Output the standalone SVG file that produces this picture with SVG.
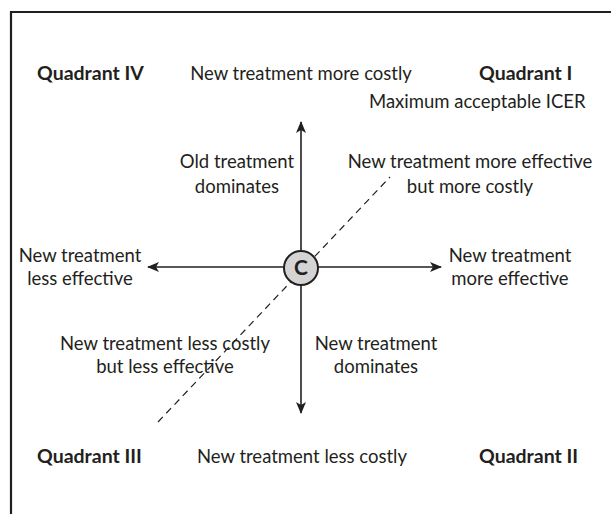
<svg xmlns="http://www.w3.org/2000/svg" width="611" height="514" viewBox="0 0 611 514">
<defs>
<marker id="ah" viewBox="0 0 12 10" refX="11" refY="5" markerWidth="12" markerHeight="10" markerUnits="userSpaceOnUse" orient="auto">
<path d="M0,0 L12,5 L0,10 L3,5 Z" fill="#231f20"/>
</marker>
<style>
text{font-family:Lato,"Open Sans","Liberation Sans",sans-serif;font-size:18.5px;fill:#231f20}
.b{font-weight:bold;font-size:19.5px}
.m{text-anchor:middle}
.ax{stroke:#231f20;stroke-width:1.6;fill:none}
</style>
</defs>
<rect width="611" height="514" fill="#fff"/>
<path d="M11,514 V12 H611" fill="none" stroke="#231f20" stroke-width="2.2"/>
<g id="connectors">
<line class="ax" x1="301" y1="250" x2="301" y2="122" marker-end="url(#ah)"/>
<line class="ax" x1="301" y1="285" x2="301" y2="413" marker-end="url(#ah)"/>
<line class="ax" x1="284" y1="267" x2="148" y2="267" marker-end="url(#ah)"/>
<line class="ax" x1="318" y1="267" x2="441" y2="267" marker-end="url(#ah)"/>
<line x1="158" y1="422" x2="390" y2="177" stroke="#231f20" stroke-width="1.2" stroke-dasharray="7,5"/>
</g>
<g id="origin">
<circle cx="301" cy="268" r="17" fill="#d4d4d4" stroke="#231f20" stroke-width="2"/>
<text class="b m" x="301" y="275" style="font-size:21px">C</text>
</g>
<g id="q4"><text class="b" x="37" y="80">Quadrant IV</text></g>
<g id="top"><text class="m" x="301" y="80">New treatment more costly</text></g>
<g id="q1"><text class="b" x="479" y="80">Quadrant I</text></g>
<g id="icer"><text x="369" y="108">Maximum acceptable ICER</text></g>
<g id="old"><text class="m" x="237" y="168">Old treatment</text><text class="m" x="237" y="193">dominates</text></g>
<g id="ne"><text class="m" x="470" y="168">New treatment more effective</text><text class="m" x="470" y="193">but more costly</text></g>
<g id="left"><text class="m" x="80" y="262">New treatment</text><text class="m" x="80" y="285">less effective</text></g>
<g id="right"><text class="m" x="510" y="262">New treatment</text><text class="m" x="510" y="285">more effective</text></g>
<g id="sw"><text class="m" x="165" y="350">New treatment less costly</text><text class="m" x="165" y="373">but less effective</text></g>
<g id="dom"><text class="m" x="376" y="350">New treatment</text><text class="m" x="376" y="373">dominates</text></g>
<g id="q3"><text class="b" x="37" y="463">Quadrant III</text></g>
<g id="bottom"><text class="m" x="302" y="463">New treatment less costly</text></g>
<g id="q2"><text class="b" x="479" y="463">Quadrant II</text></g>
</svg>
